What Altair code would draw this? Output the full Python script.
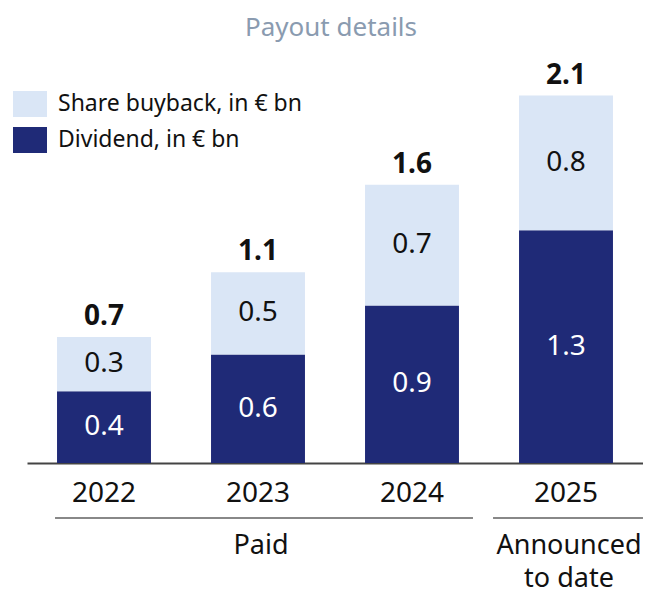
import altair as alt
import pandas as pd

FONT = "Noto Sans"

years = ["2022", "2023", "2024", "2025"]
dividend = [0.41, 0.62, 0.90, 1.33]
buyback = [0.31, 0.47, 0.69, 0.77]
series_names = ["Share buyback, in € bn", "Dividend, in € bn"]
group_names = ["Paid", "Announced\nto date"]
group_first = ["2022", "2025"]
group_last = ["2024", "2025"]
group_mid = ["2023", "2025"]
title_text = "Payout details"

LIGHT = "#dae6f6"
DARK = "#1f2a77"

rows = []
for yr, d, b in zip(years, dividend, buyback):
    rows.append({"year": yr, "series": series_names[1], "value": d, "lo": 0.0, "hi": d, "mid": d / 2})
    rows.append({"year": yr, "series": series_names[0], "value": b, "lo": d, "hi": d + b, "mid": d + b / 2})
seg = pd.DataFrame(rows)
tot = pd.DataFrame({"year": years, "total": [d + b for d, b in zip(dividend, buyback)]})
grp = pd.DataFrame({"group": group_names, "first": group_first, "last": group_last, "mid": group_mid})

W, H = 616, 418
xscale = alt.Scale(domain=years, paddingInner=0.39, paddingOuter=0.195)
yscale = alt.Scale(domain=[0, H / 175.0], nice=False, zero=True)

bars = alt.Chart(seg).mark_bar().encode(
    x=alt.X("year:N", scale=xscale, sort=years, title=None,
            axis=alt.Axis(labelFontSize=28, labelFont=FONT, labelColor="#111",
                          labelAngle=0, ticks=False, tickSize=0, labelPadding=16,
                          domainColor="#444", domainWidth=2, grid=False)),
    y=alt.Y("hi:Q", scale=yscale, axis=None),
    y2="lo:Q",
    color=alt.Color("series:N",
                    scale=alt.Scale(domain=series_names, range=[LIGHT, DARK]),
                    legend=alt.Legend(orient="none", legendX=-14, legendY=42, title=None,
                                      symbolType="M-1,-0.765L1,-0.765L1,0.765L-1,0.765Z",
                                      symbolSize=1156, symbolStrokeWidth=0, symbolOpacity=1,
                                      labelFontSize=23, labelFont=FONT, labelColor="#111",
                                      labelOffset=11, rowPadding=5, labelLimit=500, padding=0)),
)

seg_text = alt.Chart(seg).mark_text(fontSize=28, font=FONT, baseline="middle").encode(
    x=alt.X("year:N", scale=xscale, sort=years, title=None),
    y=alt.Y("mid:Q", scale=yscale, axis=None),
    text=alt.Text("value:Q", format=".1f"),
    color=alt.condition(alt.datum.series == series_names[1], alt.value("white"), alt.value("#111")),
)

tot_text = alt.Chart(tot).mark_text(fontSize=28, font=FONT, fontWeight="bold",
                                    baseline="alphabetic", dy=-12, color="#111").encode(
    x=alt.X("year:N", scale=xscale, sort=years, title=None),
    y=alt.Y("total:Q", scale=yscale, axis=None),
    text=alt.Text("total:Q", format=".1f"),
)

rule_paid = alt.Chart(grp).transform_filter("datum.first != datum.last").mark_rule(
    color="#888", strokeWidth=2, xOffset=-2, x2Offset=14).encode(
    x=alt.X("first:N", scale=xscale, sort=years, bandPosition=0, title=None),
    x2=alt.X2("last:N", bandPosition=1),
    y=alt.value(473),
)

rule_ann = alt.Chart(grp).transform_filter("datum.first == datum.last").mark_rule(
    color="#888", strokeWidth=2, xOffset=-26, x2Offset=30).encode(
    x=alt.X("first:N", scale=xscale, sort=years, bandPosition=0, title=None),
    x2=alt.X2("last:N", bandPosition=1),
    y=alt.value(473),
)

grp_text = alt.Chart(grp).mark_text(fontSize=27, font=FONT, baseline="top", lineBreak="\n",
                                    lineHeight=33, dx=3, color="#111").encode(
    x=alt.X("mid:N", scale=xscale, sort=years, title=None),
    y=alt.value(488),
    text="group:N",
)

chart = alt.layer(bars, seg_text, tot_text, rule_paid, rule_ann, grp_text).properties(
    width=W, height=H,
    title=alt.TitleParams(title_text, fontSize=26, font=FONT, fontWeight="normal",
                          color="#8a9bb0", anchor="middle", offset=4, dx=-4),
    autosize=alt.AutoSizeParams(type="none"),
    padding={"left": 19, "top": 37, "right": 0, "bottom": 131},
).configure_view(stroke=None)

chart.save("out.html", embed_options={"renderer": "svg", "actions": False})
